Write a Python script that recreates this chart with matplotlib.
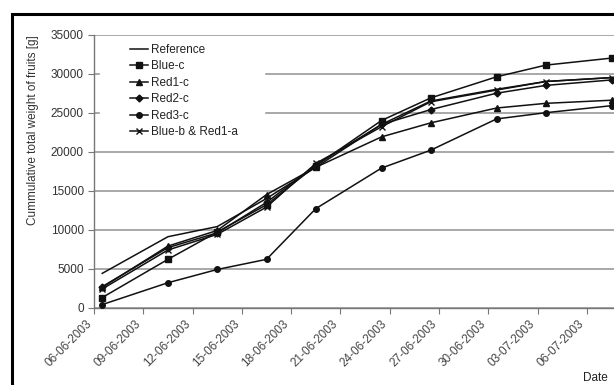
import numpy as np
import pandas as pd
import matplotlib
matplotlib.use("Agg")
import matplotlib.pyplot as plt
import matplotlib.dates as mdates
from matplotlib.patches import Rectangle

plt.rcParams['font.family'] = ['Liberation Sans', 'DejaVu Sans']

# harvest dates and cumulative fruit weight per treatment [g]
dates = ['2003-06-06', '2003-06-10', '2003-06-13', '2003-06-16', '2003-06-19',
         '2003-06-23', '2003-06-26', '2003-06-30', '2003-07-03', '2003-07-07']
reference = [4400, 9100, 10400, 14000, 18000, 23500, 26500, 28000, 29000, 29500]
blue_c = [1300, 6200, 9700, 13200, 18200, 24000, 26900, 29600, 31100, 32000]
red1_c = [2600, 7900, 9900, 14500, 18000, 21900, 23700, 25600, 26200, 26600]
red2_c = [2700, 7700, 9600, 13500, 18300, 23500, 25400, 27500, 28500, 29200]
red3_c = [400, 3200, 4900, 6200, 12700, 17900, 20200, 24200, 25000, 25900]
blue_b_red1_a = [2400, 7400, 9400, 12900, 18500, 23200, 26400, 27900, 29000, 29500]

# points sit in the middle of each day on the date axis
x = mdates.date2num(pd.to_datetime(dates)) + 0.5

fig = plt.figure(figsize=(6.14, 3.85), dpi=100)
ax = fig.add_axes([94 / 614, 77.3 / 385, 520 / 614, 273 / 385])

series = [
    ('Reference', reference, None, 0),
    ('Blue-c', blue_c, 's', 4.5),
    ('Red1-c', red1_c, '^', 5),
    ('Red2-c', red2_c, 'D', 3.5),
    ('Red3-c', red3_c, 'o', 4),
    ('Blue-b & Red1-a', blue_b_red1_a, 'x', 5),
]
for name, vals, mk, ms in series:
    ax.plot(x, vals, color='#111111', lw=1.1, marker=mk, ms=ms,
            mew=1.0, label=name, zorder=3)

start = mdates.date2num(pd.Timestamp('2003-06-06'))
ax.set_xlim(start, start + 31.65)
ax.set_ylim(0, 35000)
ax.set_yticks(np.arange(0, 35001, 5000))
ax.set_xticks(start + np.arange(0, 31, 3))
ax.xaxis.set_major_formatter(mdates.DateFormatter('%d-%m-%Y'))

ax.set_axisbelow(True)
ax.yaxis.grid(True, color='#a8a8a8', lw=1.4)
for s in ['top', 'right']:
    ax.spines[s].set_visible(False)
for s in ['left', 'bottom']:
    ax.spines[s].set_color('#777777')
    ax.spines[s].set_linewidth(1.0)
ax.tick_params(axis='both', direction='out', length=4.3, color='#777777',
               labelsize=8.5, labelcolor='#333333')
ax.tick_params(axis='y', pad=3)
ax.tick_params(axis='x', pad=3)
for lbl in ax.get_xticklabels():
    lbl.set_rotation(45)
    lbl.set_ha('right')
    lbl.set_va('top')
    lbl.set_color('#444444')

# white block behind the legend hides the gridlines there
ax.axhspan(20900, 34550, xmin=6 / 520, xmax=170 / 520, color='white', zorder=1)

ax.legend(loc='upper left', bbox_to_anchor=(30 / 520, 0.988), frameon=False,
          fontsize=8.5, handlelength=1.5, handletextpad=0.25, labelspacing=0.38,
          borderpad=0.0, labelcolor='#222222')

fig.text(33 / 614, 1 - 130 / 385, 'Cummulative total weight of fruits [g]',
         rotation=90, ha='center', va='center', fontsize=8.5, color='#333333')
fig.text(583 / 614, 1 / 385, 'Date', ha='left', va='bottom', fontsize=8.5,
         color='#222222')

# outer chart frame
fig.patches.append(Rectangle((12 / 614, -0.2), 1.2, 1.2 - 14 / 385,
                             transform=fig.transFigure, fill=False,
                             edgecolor='black', lw=2.2))

fig.savefig('out.png', dpi=100)
